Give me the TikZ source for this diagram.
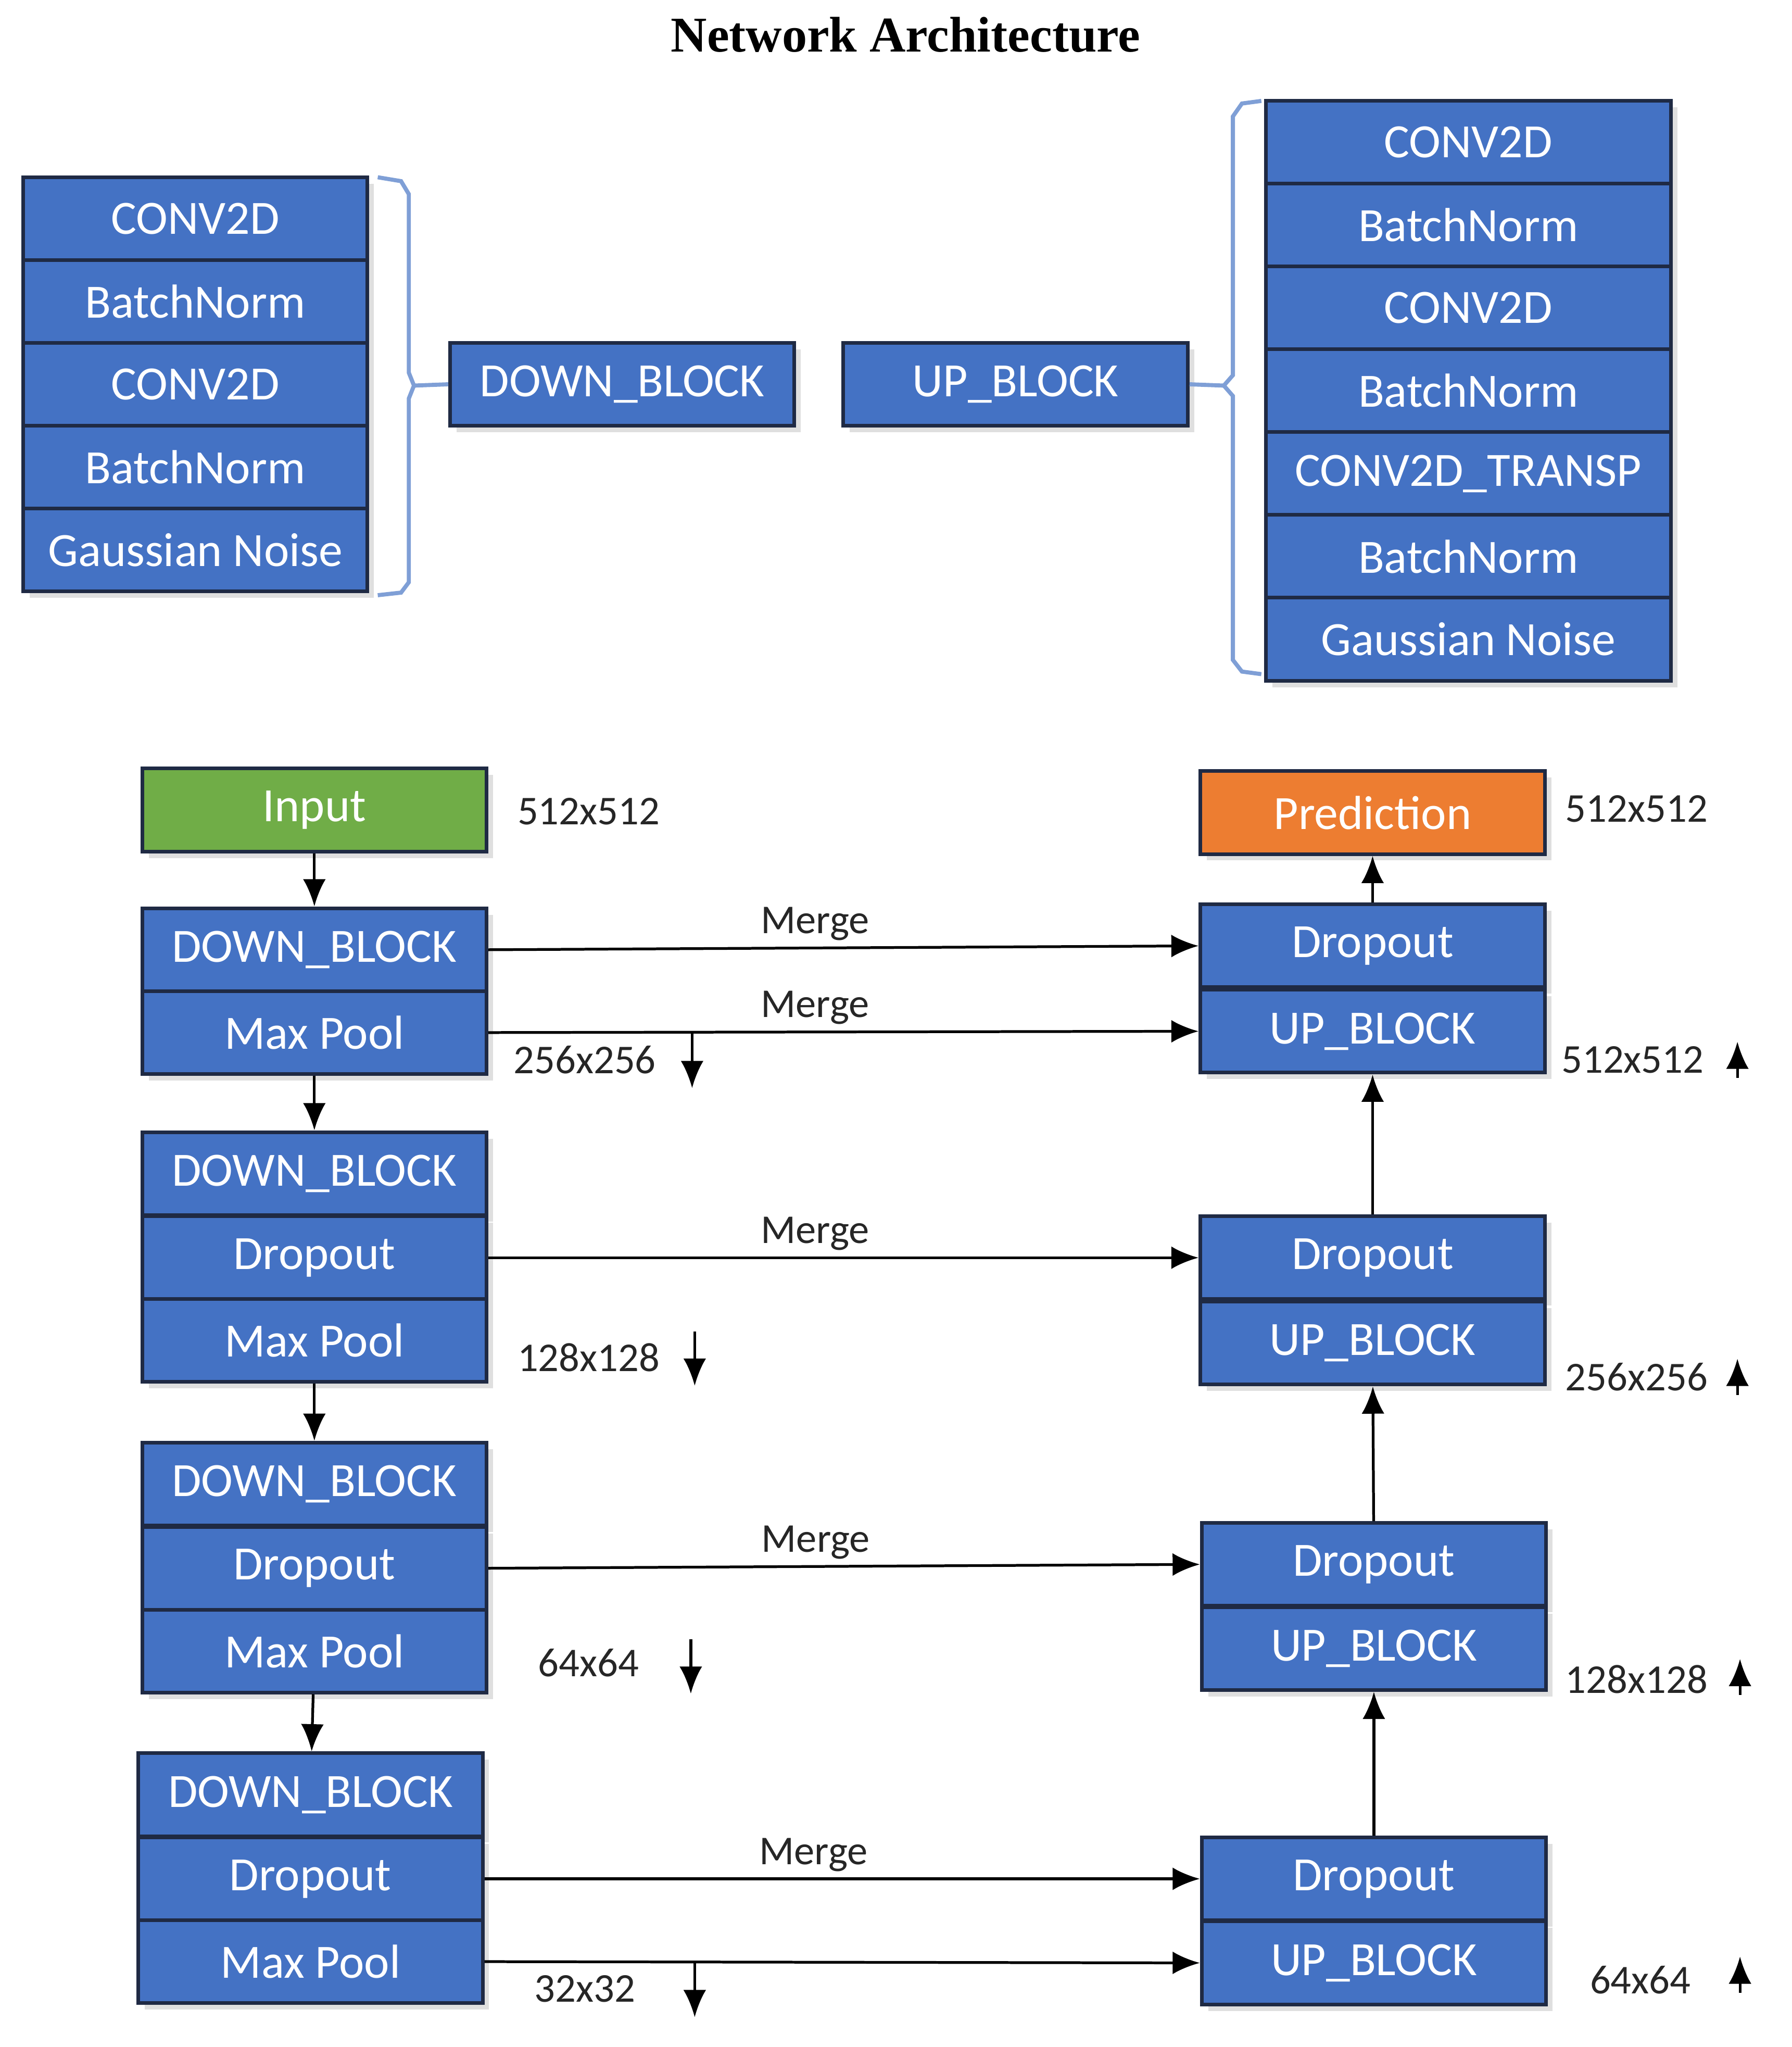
\documentclass[tikz,border=0pt]{standalone}
\usepackage{fontspec}
\setmainfont{Carlito}
\newfontfamily\titlefont{Liberation Serif}
\usetikzlibrary{shadows,arrows.meta}
\definecolor{blkblue}{HTML}{4472C4}
\definecolor{blkedge}{HTML}{1F2A44}
\definecolor{inpgreen}{HTML}{70AD47}
\definecolor{predorange}{HTML}{ED7D31}
\definecolor{bracketblue}{HTML}{7F9FD6}
\tikzset{
  blk/.style={draw=blkedge, line width=0.8pt, fill=blkblue, text=white,
    minimum width=2.66cm, minimum height=0.64cm, inner sep=0pt,
    font=\fontsize{10.5}{11}\selectfont,
    drop shadow={shadow xshift=0.05cm, shadow yshift=-0.05cm, fill=black!25}},
  lbl/.style={font=\fontsize{9}{10}\selectfont, text=black!85},
  flow/.style={-{Latex[length=6pt,width=5pt]}, line width=0.6pt},
  brk/.style={draw=bracketblue, line width=0.9pt}
}
\begin{document}
\begin{tikzpicture}[x=0.01cm, y=-0.01cm]
  \useasboundingbox (0,0) rectangle (1385,1582);
  \node[font=\titlefont\bfseries\fontsize{11}{12}\selectfont] (title) at (700,27) {Network Architecture};

  % down block contents
  \node[blk] (dc1) at (151,169) {CONV2D};
  \node[blk] (dbn1) at (151,233) {BatchNorm};
  \node[blk] (dc2) at (151,297) {CONV2D};
  \node[blk] (dbn2) at (151,361) {BatchNorm};
  \node[blk] (dgn) at (151,425) {Gaussian Noise};
  \draw[brk] (292,137) -- (310,140) -- (316,150) -- (316,288) -- (320,298) -- (316,308) -- (316,450) -- (310,458) -- (292,460);
  \node[blk] (down) at (481,297) {DOWN\_BLOCK};
  \draw[brk] (320,298) -- (down.west);

  % up block contents
  \node[blk] (up) at (785,297) {UP\_BLOCK};
  \begin{scope}[blk/.append style={minimum width=3.13cm}]
    \node[blk] (uc1) at (1135,110) {CONV2D};
    \node[blk] (ubn1) at (1135,174) {BatchNorm};
    \node[blk] (uc2) at (1135,238) {CONV2D};
    \node[blk] (ubn2) at (1135,302) {BatchNorm};
    \node[blk] (uct) at (1135,366) {CONV2D\_TRANSP};
    \node[blk] (ubn3) at (1135,430) {BatchNorm};
    \node[blk] (ugn) at (1135,494) {Gaussian Noise};
  \end{scope}
  \draw[brk] (975,78) -- (960,80) -- (953,90) -- (953,290) -- (946,298) -- (953,306) -- (953,510) -- (960,519) -- (975,521);
  \draw[brk] (946,298) -- (up.east);

  % encoder
  \node[blk, fill=inpgreen] (input) at (243,626) {Input};
  \node[lbl] (sin) at (455,627) {512x512};
  \node[blk] (d1) at (243,734) {DOWN\_BLOCK};
  \node[blk] (p1) at (243,798) {Max Pool};
  \node[blk] (d2) at (243,907) {DOWN\_BLOCK};
  \node[blk] (o2) at (243,972) {Dropout};
  \node[blk] (p2) at (243,1036) {Max Pool};
  \node[blk] (d3) at (243,1147) {DOWN\_BLOCK};
  \node[blk] (o3) at (243,1212) {Dropout};
  \node[blk] (p3) at (243,1276) {Max Pool};
  \node[blk] (d4) at (240,1387) {DOWN\_BLOCK};
  \node[blk] (o4) at (240,1452) {Dropout};
  \node[blk] (p4) at (240,1516) {Max Pool};
  \draw[flow] (input) -- (d1);
  \draw[flow] (p1) -- (d2);
  \draw[flow] (p2) -- (d3);
  \draw[flow] (p3) -- (d4);

  % decoder
  \node[blk, fill=predorange] (pred) at (1061,628) {Prediction};
  \node[lbl] (sout) at (1265,625) {512x512};
  \node[blk] (r1) at (1061,731) {Dropout};
  \node[blk] (u1) at (1061,797) {UP\_BLOCK};
  \node[blk] (r2) at (1061,972) {Dropout};
  \node[blk] (u2) at (1061,1038) {UP\_BLOCK};
  \node[blk] (r3) at (1062,1209) {Dropout};
  \node[blk] (u3) at (1062,1274) {UP\_BLOCK};
  \node[blk] (r4) at (1062,1452) {Dropout};
  \node[blk] (u4) at (1062,1517) {UP\_BLOCK};
  \draw[flow] (r1) -- (pred);
  \draw[flow] (r2) -- (u1);
  \draw[flow] (r3) -- (u2);
  \draw[flow] (r4) -- (u3);

  % merges
  \draw[flow] (d1.east) -- node[lbl, above=-2pt, pos=0.46] (m1) {Merge} (r1.west);
  \draw[flow] (p1.east) -- node[lbl, above=-2pt, pos=0.46] (m2) {Merge} (u1.west);
  \draw[flow] (o2.east) -- node[lbl, above=-2pt, pos=0.46] (m3) {Merge} (r2.west);
  \draw[flow] (o3.east) -- node[lbl, above=-2pt, pos=0.46] (m4) {Merge} (r3.west);
  \draw[flow] (o4.east) -- node[lbl, above=-2pt, pos=0.46] (m5) {Merge} (r4.west);
  \draw[flow] (p4.east) -- (u4.west);

  % sizes
  \node[lbl] (s1) at (452,819) {256x256};
  \node[lbl] (s2) at (455,1049) {128x128};
  \node[lbl] (s3) at (455,1285) {64x64};
  \node[lbl] (s4) at (452,1537) {32x32};
  \foreach \x/\y in {535/819, 537/1049, 534/1287, 537/1537}
    \draw[flow] (\x,\y-20) -- (\x,\y+22);
  \node[lbl] (t1) at (1262,819) {512x512};
  \node[lbl] (t2) at (1265,1064) {256x256};
  \node[lbl] (t3) at (1265,1298) {128x128};
  \node[lbl] (t4) at (1268,1530) {64x64};
  \foreach \x/\y in {1343/819, 1343/1064, 1345/1296, 1345/1526}
    \draw[flow] (\x,\y+14) -- (\x,\y-14);
\end{tikzpicture}
\end{document}
